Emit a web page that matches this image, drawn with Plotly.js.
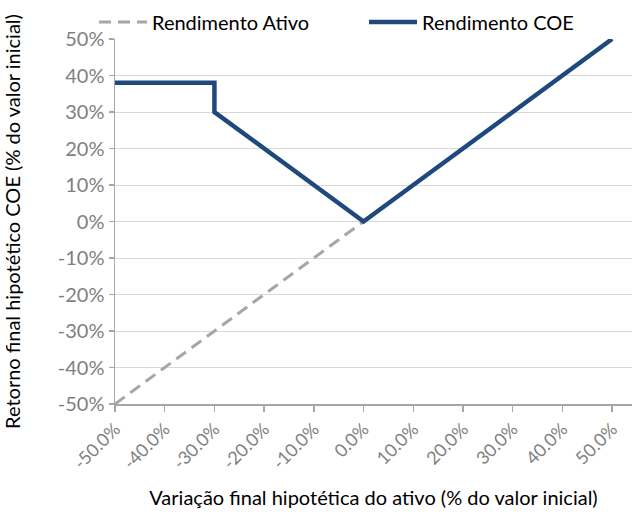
<!DOCTYPE html>
<html><head><meta charset="utf-8">
<script src="https://cdn.plot.ly/plotly-3.0.1.min.js"></script>
<style>html,body{margin:0;padding:0;background:#fff;}#chart{width:634px;height:512px;}</style>
</head><body><div id="chart"></div>
<script>
const ativoX = [-50, -40, -30, -20, -10, 0, 10, 20, 30, 40, 50];
const ativoY = [-50, -40, -30, -20, -10, 0, 10, 20, 30, 40, 50];
const coeX = [-50, -40, -30, -30, -20, -10, 0, 10, 20, 30, 40, 50];
const coeY = [38, 38, 38, 30, 20, 10, 0, 10, 20, 30, 40, 50];
const xTicks = [-50, -40, -30, -20, -10, 0, 10, 20, 30, 40, 50];
const xTickLabels = ["-50.0%", "-40.0%", "-30.0%", "-20.0%", "-10.0%", "0.0%", "10.0%", "20.0%", "30.0%", "40.0%", "50.0%"];
const yTicks = [-50, -40, -30, -20, -10, 0, 10, 20, 30, 40, 50];
const yTickLabels = ["-50%", "-40%", "-30%", "-20%", "-10%", "0%", "10%", "20%", "30%", "40%", "50%"];

const font = "Lato, 'Open Sans', sans-serif";
const traces = [
  {x: ativoX, y: ativoY, type: 'scatter', mode: 'lines', name: 'Rendimento Ativo',
   line: {color: '#a6a6a6', width: 3, dash: '12px,7px'}, cliponaxis: false},
  {x: coeX, y: coeY, type: 'scatter', mode: 'lines', name: 'Rendimento COE',
   line: {color: '#1f497d', width: 4.5}, cliponaxis: false}
];
const layout = {
  width: 634, height: 512,
  margin: {l: 115, r: 2, t: 37, b: 108},
  paper_bgcolor: '#fff', plot_bgcolor: '#fff',
  font: {family: font, size: 20, color: '#000'},
  showlegend: true,
  legend: {orientation: 'h', x: -0.0001, xanchor: 'left', y: 1.1, yanchor: 'top',
           font: {family: font, size: 20, color: '#000'}, traceorder: 'normal',
           itemwidth: 48, entrywidth: 207, entrywidthmode: 'pixels', bgcolor: 'rgba(0,0,0,0)'},
  xaxis: {range: [-50, 54], tickvals: xTicks, ticktext: xTickLabels, tickangle: -45,
          tickfont: {family: font, size: 18, color: '#7f7f7f'},
          showgrid: false, zeroline: false, showline: true, linecolor: '#a6a6a6', linewidth: 1.5,
          ticks: 'outside', ticklen: 6, tickcolor: '#a6a6a6', tickwidth: 1.5,
          title: {text: 'Variação final hipotética do ativo (% do valor inicial)', font: {family: font, size: 20, color: '#000'}, standoff: 18}},
  yaxis: {range: [-50, 50], tickvals: yTicks, ticktext: yTickLabels,
          tickfont: {family: font, size: 20, color: '#7f7f7f'},
          showgrid: true, gridcolor: '#d9d9d9', gridwidth: 1, zeroline: false,
          showline: true, linecolor: '#a6a6a6', linewidth: 1.5,
          ticks: 'outside', ticklen: 5, tickcolor: '#a6a6a6', tickwidth: 1.5,
          title: {text: 'Retorno final hipotético COE (% do valor inicial)', font: {family: font, size: 20, color: '#000'}, standoff: 36}}
};
Plotly.newPlot('chart', traces, layout, {displayModeBar: false, staticPlot: true});
</script></body></html>
